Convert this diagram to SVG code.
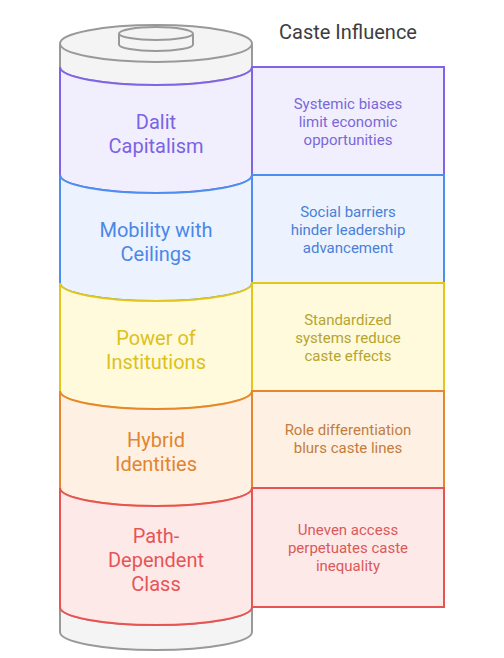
<svg xmlns="http://www.w3.org/2000/svg" width="504" height="658" viewBox="0 0 504 658">
<style>
.g{fill:#f4f4f4;stroke:#999;stroke-width:2}
.seg{stroke-width:2}
.lbl{font-family:Roboto,"Liberation Sans",sans-serif;font-size:20px;text-anchor:middle}
.bt{font-family:Roboto,"Liberation Sans",sans-serif;font-size:15px;text-anchor:middle}
</style>
<rect width="504" height="658" fill="#fff"/>
<g id="base">
<path class="g" d="M60,607 A96,18 0 0 0 252,607 L252,632 A96,18 0 0 1 60,632 Z"/>
</g>
<g id="top">
<path class="g" d="M60,43.5 L60,67 A96,18 0 0 0 252,67 L252,43.5"/>
<ellipse class="g" cx="156" cy="43.5" rx="96" ry="18.5"/>
<path class="g" d="M119,33.5 L119,44.5 A37,6.5 0 0 0 193,44.5 L193,33.5"/>
<ellipse class="g" cx="156" cy="33.5" rx="37" ry="6.5"/>
</g>
<text class="lbl" x="348" y="39" fill="#3d3d3d">Caste Influence</text>
<g id="dalit">
<path class="seg" fill="#f1effe" stroke="#8064e6" d="M60,67 A96,18 0 0 0 252,67 L252,175 A96,18 0 0 1 60,175 Z"/>
<rect class="seg" x="252" y="67" width="192" height="108" fill="#f1effe" stroke="#8064e6"/>
<text class="lbl" fill="#7b63e3" x="156" y="129">Dalit</text>
<text class="lbl" fill="#7b63e3" x="156" y="153">Capitalism</text>
<text class="bt" fill="#7a68d8" x="348" y="109">Systemic biases</text>
<text class="bt" fill="#7a68d8" x="348" y="127">limit economic</text>
<text class="bt" fill="#7a68d8" x="348" y="145">opportunities</text>
</g>
<g id="mobility">
<path class="seg" fill="#ecf3fe" stroke="#4e8eef" d="M60,175 A96,18 0 0 0 252,175 L252,283 A96,18 0 0 1 60,283 Z"/>
<rect class="seg" x="252" y="175" width="192" height="108" fill="#ecf3fe" stroke="#4e8eef"/>
<text class="lbl" fill="#4b87e8" x="156" y="237">Mobility with</text>
<text class="lbl" fill="#4b87e8" x="156" y="261">Ceilings</text>
<text class="bt" fill="#4a7fd8" x="348" y="217">Social barriers</text>
<text class="bt" fill="#4a7fd8" x="348" y="235">hinder leadership</text>
<text class="bt" fill="#4a7fd8" x="348" y="253">advancement</text>
</g>
<g id="power">
<path class="seg" fill="#fffadb" stroke="#e3c61a" d="M60,283 A96,18 0 0 0 252,283 L252,391 A96,18 0 0 1 60,391 Z"/>
<rect class="seg" x="252" y="283" width="192" height="108" fill="#fffadb" stroke="#e3c61a"/>
<text class="lbl" fill="#dcc11c" x="156" y="345">Power of</text>
<text class="lbl" fill="#dcc11c" x="156" y="369">Institutions</text>
<text class="bt" fill="#b5a530" x="348" y="325">Standardized</text>
<text class="bt" fill="#b5a530" x="348" y="343">systems reduce</text>
<text class="bt" fill="#b5a530" x="348" y="361">caste effects</text>
</g>
<g id="hybrid">
<path class="seg" fill="#fef0e3" stroke="#e6872d" d="M60,391 A96,18 0 0 0 252,391 L252,488 A96,18 0 0 1 60,488 Z"/>
<rect class="seg" x="252" y="391" width="192" height="97" fill="#fef0e3" stroke="#e6872d"/>
<text class="lbl" fill="#e08530" x="156" y="447">Hybrid</text>
<text class="lbl" fill="#e08530" x="156" y="471">Identities</text>
<text class="bt" fill="#c27d3e" x="348" y="435">Role differentiation</text>
<text class="bt" fill="#c27d3e" x="348" y="453">blurs caste lines</text>
</g>
<g id="path">
<path class="seg" fill="#fee9e9" stroke="#e85454" d="M60,488 A96,18 0 0 0 252,488 L252,607 A96,18 0 0 1 60,607 Z"/>
<rect class="seg" x="252" y="488" width="192" height="119" fill="#fee9e9" stroke="#e85454"/>
<text class="lbl" fill="#e65555" x="156" y="543">Path-</text>
<text class="lbl" fill="#e65555" x="156" y="567">Dependent</text>
<text class="lbl" fill="#e65555" x="156" y="591">Class</text>
<text class="bt" fill="#d95a5a" x="348" y="535">Uneven access</text>
<text class="bt" fill="#d95a5a" x="348" y="553">perpetuates caste</text>
<text class="bt" fill="#d95a5a" x="348" y="571">inequality</text>
</g>
<g id="connectors"/>
</svg>
